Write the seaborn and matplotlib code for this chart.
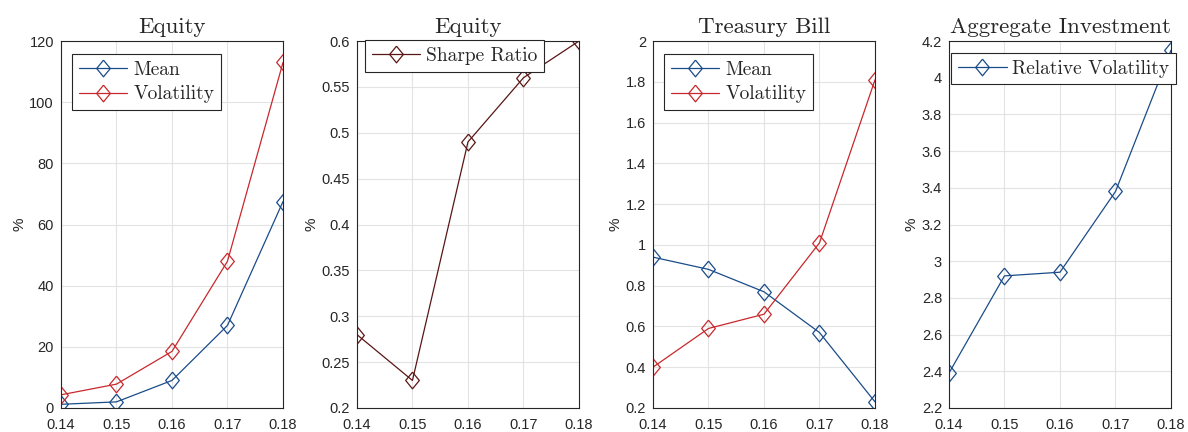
import matplotlib
matplotlib.use('Agg')
import matplotlib.pyplot as plt
import seaborn as sns
from matplotlib.ticker import FuncFormatter
import numpy as np

# Data
rho = [0.14, 0.15, 0.16, 0.17, 0.18]
equity_mean = [1.2, 2.0, 9.0, 27.0, 67.5]
equity_vol = [4.3, 7.8, 18.5, 48.0, 113.0]
sharpe = [0.28, 0.23, 0.49, 0.56, 0.60]
tbill_mean = [0.94, 0.88, 0.77, 0.57, 0.23]
tbill_vol = [0.40, 0.59, 0.66, 1.01, 1.81]
inv_relvol = [2.39, 2.92, 2.94, 3.38, 4.15]

BLUE = '#1a4c89'
RED = '#c8282d'
BROWN = '#5a1616'

# MATLAB style diamond, a bit taller than wide
DIAMOND = [(0, 1), (0.82, 0), (0, -1), (-0.82, 0), (0, 1)]

sns.set_style('white')
plt.rcParams['font.family'] = ['Liberation Sans', 'DejaVu Sans']

fig, axes = plt.subplots(1, 4, figsize=(11.88, 4.32), dpi=100)
fig.subplots_adjust(left=0.0513, right=0.9857, top=0.905, bottom=0.0556, wspace=0.333)

panels = [
    ('Equity', [('Mean', equity_mean, BLUE), ('Volatility', equity_vol, RED)],
     (0, 120), np.arange(0, 121, 20), (0.05, 0.965)),
    ('Equity', [('Sharpe Ratio', sharpe, BROWN)],
     (0.2, 0.6), np.arange(0.2, 0.601, 0.05), (0.036, 1.003)),
    ('Treasury Bill', [('Mean', tbill_mean, BLUE), ('Volatility', tbill_vol, RED)],
     (0.2, 2), np.arange(0.2, 2.001, 0.2), (0.05, 0.965)),
    ('Aggregate Investment', [('Relative Volatility', inv_relvol, BLUE)],
     (2.2, 4.2), np.arange(2.2, 4.201, 0.2), (0.01, 0.968)),
]

fmt = FuncFormatter(lambda v, p: '%g' % round(v, 4))

for ax, (title, series, ylim, yticks, legpos) in zip(axes, panels):
    for name, vals, col in series:
        sns.lineplot(x=rho, y=vals, ax=ax, color=col, linewidth=0.9,
                     marker=DIAMOND, markersize=12, markerfacecolor='none',
                     markeredgecolor=col, markeredgewidth=0.9, label=name)
    ax.set_xlim(0.14, 0.18)
    ax.set_ylim(*ylim)
    ax.set_xticks(rho)
    ax.set_yticks(yticks)
    ax.xaxis.set_major_formatter(fmt)
    ax.yaxis.set_major_formatter(fmt)
    ax.grid(True, color='#e3e3e3', linewidth=0.8)
    ax.set_axisbelow(True)
    for s in ax.spines.values():
        s.set_color('#262626')
        s.set_linewidth(0.8)
    ax.tick_params(direction='in', length=4, width=0.8, labelsize=10.5,
                   colors='#262626')
    ax.tick_params(axis='x', pad=7)
    ax.tick_params(axis='y', pad=5)
    ax.set_ylabel('%', fontsize=11, color='#262626', labelpad=2)
    ax.set_title(title, fontfamily='cmr10', fontsize=16.5, pad=6)
    leg = ax.legend(loc='upper left', bbox_to_anchor=legpos, frameon=True,
                    fancybox=False, edgecolor='#262626', framealpha=1,
                    prop={'family': 'cmr10', 'size': 14},
                    handlelength=2.5, handletextpad=0.3, borderpad=0.35,
                    labelspacing=0.35, borderaxespad=0)
    leg.get_frame().set_linewidth(0.8)

fig.savefig('out.png', dpi=100)
